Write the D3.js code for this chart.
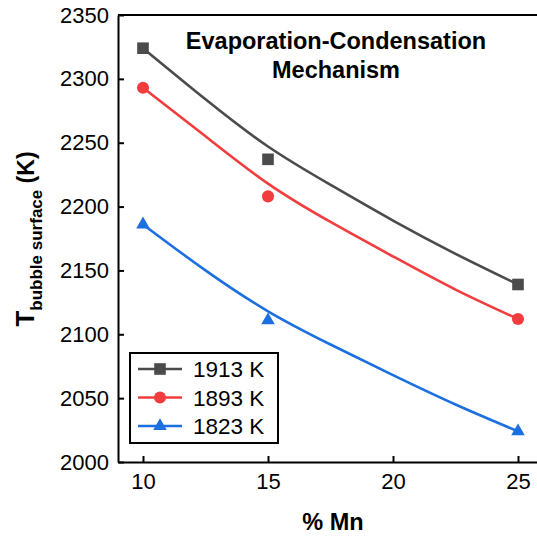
<!DOCTYPE html>
<html>
<head>
<meta charset="utf-8">
<script src="https://cdn.jsdelivr.net/npm/d3@7"></script>
<style>
  body { margin: 0; background: #fff; }
  svg { font-family: "Liberation Sans", Arial, sans-serif; }
</style>
</head>
<body>
<svg id="chart" width="537" height="538"></svg>
<script>
// measured points
const mnPct = [10, 15, 25]
const t1913 = [2324, 2237, 2139]
const t1893 = [2293, 2208, 2112]
const t1823 = [2186, 2111, 2024]

// fitted curves
const fitX = [10, 12.5, 15, 17.5, 20, 22.5, 25]
const fit1913 = [2324, 2284, 2247, 2217, 2189, 2163, 2139]
const fit1893 = [2293, 2255, 2218, 2188, 2161, 2135, 2112]
const fit1823 = [2186, 2150, 2118, 2092, 2068, 2045, 2024]

const xTicks = [10, 15, 20, 25]
const yTicks = [2000, 2050, 2100, 2150, 2200, 2250, 2300, 2350]

const series = [
  { name: '1913 K', pts: t1913, fit: fit1913, color: '#4b4b4b', shape: d3.symbolSquare, size: 135 },
  { name: '1893 K', pts: t1893, fit: fit1893, color: '#f23d3f', shape: d3.symbolCircle, size: 115 },
  { name: '1823 K', pts: t1823, fit: fit1823, color: '#1c6fe0', shape: d3.symbolTriangle, size: 80 }
]

const svg = d3.select('#chart')
const x = d3.scaleLinear().domain([9, 26]).range([118, 543])
const y = d3.scaleLinear().domain([2000, 2350]).range([462, 15])

// top frame line
svg.append('line')
  .attr('x1', x(9)).attr('x2', 537)
  .attr('y1', y(2350)).attr('y2', y(2350))
  .attr('stroke', '#000').attr('stroke-width', 2)

const yAxis = d3.axisLeft(y).tickValues(yTicks).tickFormat(d3.format('d'))
  .tickSizeInner(-6).tickSizeOuter(0).tickPadding(9)
svg.append('g')
  .attr('transform', `translate(${x(9)},0)`)
  .call(yAxis)

const xAxis = d3.axisBottom(x).tickValues(xTicks).tickFormat(d3.format('d'))
  .tickSizeInner(-6).tickSizeOuter(0).tickPadding(11)
svg.append('g')
  .attr('transform', `translate(0,${y(2000)})`)
  .call(xAxis)

svg.selectAll('.domain').attr('stroke', '#000').attr('stroke-width', 2)
svg.selectAll('.tick line').attr('stroke', '#000').attr('stroke-width', 2)
svg.selectAll('.tick text').attr('font-size', 22).attr('fill', '#000')
  .attr('font-family', '"Liberation Sans", Arial, sans-serif')

// fitted curves
const line = d3.line()
  .x((d, i) => x(fitX[i]))
  .y(d => y(d))
  .curve(d3.curveNatural)

series.forEach(s => {
  svg.append('path')
    .attr('d', line(s.fit))
    .attr('fill', 'none')
    .attr('stroke', s.color)
    .attr('stroke-width', 2.6)

  svg.append('g').selectAll('path')
    .data(s.pts)
    .join('path')
    .attr('transform', (d, i) => `translate(${x(mnPct[i])},${y(d)})`)
    .attr('d', d3.symbol().type(s.shape).size(s.size))
    .attr('fill', s.color)
})

// title
svg.append('text')
  .attr('x', 336).attr('y', 49)
  .attr('text-anchor', 'middle')
  .attr('font-size', 23.5).attr('font-weight', 'bold')
  .text('Evaporation-Condensation')
svg.append('text')
  .attr('x', 336).attr('y', 78)
  .attr('text-anchor', 'middle')
  .attr('font-size', 23.5).attr('font-weight', 'bold')
  .text('Mechanism')

// axis titles
svg.append('text')
  .attr('x', 333).attr('y', 530)
  .attr('text-anchor', 'middle')
  .attr('font-size', 23.5).attr('font-weight', 'bold')
  .text('% Mn')

const yTitle = svg.append('text')
  .attr('transform', 'translate(34,239) rotate(-90)')
  .attr('text-anchor', 'middle')
  .attr('font-weight', 'bold')
yTitle.append('tspan').attr('font-size', 26).text('T')
yTitle.append('tspan').attr('font-size', 17).attr('dy', 8).text('bubble surface')
yTitle.append('tspan').attr('font-size', 23).attr('dy', -8).text(' (K)')

// legend
const lg = svg.append('g')
lg.append('rect')
  .attr('x', 130).attr('y', 353)
  .attr('width', 148).attr('height', 90)
  .attr('fill', '#fff').attr('stroke', '#000').attr('stroke-width', 2)

series.forEach((s, i) => {
  const ly = 369 + i * 28.5
  lg.append('line')
    .attr('x1', 138).attr('x2', 182)
    .attr('y1', ly).attr('y2', ly)
    .attr('stroke', s.color).attr('stroke-width', 2.6)
  lg.append('path')
    .attr('transform', `translate(160,${ly})`)
    .attr('d', d3.symbol().type(s.shape).size(s.size))
    .attr('fill', s.color)
  lg.append('text')
    .attr('x', 193).attr('y', ly + 8)
    .attr('font-size', 22.5)
    .text(s.name)
})
</script>
</body>
</html>
